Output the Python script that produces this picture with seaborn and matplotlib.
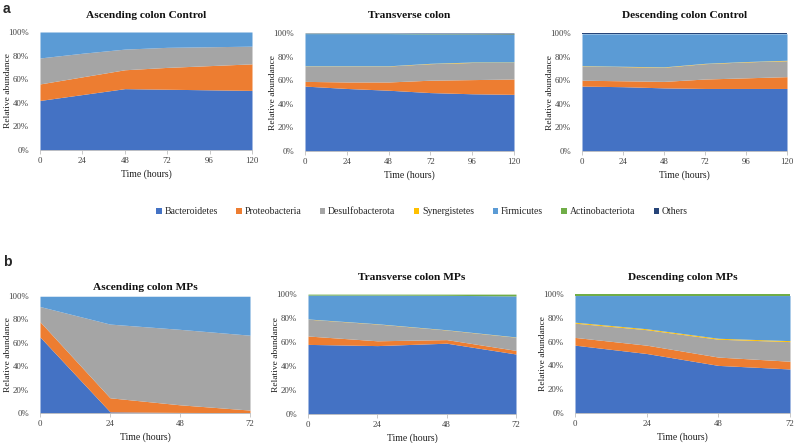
import numpy as np
import matplotlib
matplotlib.use("Agg")
import matplotlib.pyplot as plt
from matplotlib.patches import Patch
from matplotlib.ticker import PercentFormatter
import seaborn as sns

# ── Data (relative abundance, % per phylum) ──────────────────────────────────
phyla = ["Bacteroidetes", "Proteobacteria", "Desulfobacterota", "Synergistetes",
         "Firmicutes", "Actinobacteriota", "Others"]
colors = ["#4472C4", "#ED7D31", "#A5A5A5", "#FFC000", "#5B9BD5", "#70AD47", "#264478"]

time_control = [0, 24, 48, 72, 96, 120]
time_mps = [0, 24, 48, 72]

# rows follow the order of `phyla`
asc_control = [
    [42, 47, 52, 51.5, 51, 50.5],
    [14, 15, 16, 18.5, 20.5, 22.5],
    [22, 20, 17.5, 17, 16, 15],
    [0, 0, 0, 0, 0, 0],
    [22, 18, 14.5, 13, 12.5, 12],
    [0, 0, 0, 0, 0, 0],
    [0, 0, 0, 0, 0, 0],
]
trans_control = [
    [55, 53, 51.5, 49.5, 48.5, 48],
    [4, 5.5, 7, 10.5, 12, 13],
    [13, 13.5, 13.5, 14, 14.5, 14],
    [0.2, 0.2, 0.2, 0.3, 0.4, 0.4],
    [27.3, 27.3, 27.3, 24.9, 23.7, 23.4],
    [0.2, 0.2, 0.2, 0.3, 0.3, 0.4],
    [0.3, 0.3, 0.3, 0.5, 0.6, 0.8],
]
desc_control = [
    [55, 54.5, 53.5, 53, 53, 53],
    [5, 5, 5.5, 8, 9, 10],
    [12, 12, 12, 13, 13.5, 13.5],
    [0.3, 0.3, 0.3, 0.3, 0.3, 0.4],
    [27, 27.5, 28, 25, 23.5, 22.4],
    [0.1, 0.1, 0.1, 0.1, 0.1, 0.1],
    [0.6, 0.6, 0.6, 0.6, 0.6, 0.6],
]
asc_mps = [
    [65, 1, 0.5, 0.3],
    [13, 12, 6.5, 2.2],
    [13, 63, 64.5, 64],
    [0, 0, 0, 0],
    [8.8, 23.8, 28.3, 33.3],
    [0.2, 0.2, 0.2, 0.2],
    [0, 0, 0, 0],
]
trans_mps = [
    [58, 57, 59, 50],
    [7, 4, 3, 3],
    [14, 14, 8, 11],
    [0.2, 0.2, 0.2, 0.2],
    [19.9, 23.9, 28.7, 34.2],
    [0.8, 0.8, 1.0, 1.5],
    [0.1, 0.1, 0.1, 0.1],
]
desc_mps = [
    [57, 50, 40, 37],
    [6.5, 7, 7, 6.5],
    [12, 13, 15, 16.5],
    [0.8, 0.8, 0.8, 0.8],
    [22.4, 27.9, 35.9, 37.9],
    [1, 1, 1, 1],
    [0.3, 0.3, 0.3, 0.3],
]

sns.set_theme(style="white")
plt.rcParams["font.family"] = ["Liberation Serif", "DejaVu Serif"]

fig = plt.figure(figsize=(7.94, 4.43), dpi=100)
H = 443.0


def axes_px(x0, x1, y_top, y_bot):
    return fig.add_axes([x0 / 794, 1 - y_bot / H, (x1 - x0) / 794, (y_bot - y_top) / H])


panels = [
    ("Ascending colon Control", time_control, asc_control, (40, 252, 32, 150), 15),
    ("Transverse colon", time_control, trans_control, (305, 514, 33, 151), 15),
    ("Descending colon Control", time_control, desc_control, (582, 787, 33, 151), 15),
    ("Ascending colon MPs", time_mps, asc_mps, (40, 250, 296, 413), 288),
    ("Transverse colon MPs", time_mps, trans_mps, (308, 516, 294, 414), 278),
    ("Descending colon MPs", time_mps, desc_mps, (575, 790, 294, 413), 277),
]

for title, t, vals, box, title_y in panels:
    ax = axes_px(*box)
    ax.stackplot(t, np.array(vals), colors=colors, linewidth=0)
    ax.set_xlim(t[0], t[-1])
    ax.set_ylim(0, 100)
    ax.set_xticks(t)
    ax.set_yticks(range(0, 101, 20))
    ax.yaxis.set_major_formatter(PercentFormatter(decimals=0))
    ax.tick_params(axis="both", labelsize=6.3, colors="#404040", pad=2)
    ax.tick_params(axis="x", bottom=True, length=3, width=0.6, color="#BFBFBF")
    ax.tick_params(axis="y", left=False)
    sns.despine(ax=ax, left=True)
    ax.spines["bottom"].set_color("#BFBFBF")
    ax.spines["bottom"].set_linewidth(0.6)
    ax.set_xlabel("Time (hours)", fontsize=7, color="#202020", labelpad=3)
    ax.set_ylabel("Relative abundance", fontsize=6.8, color="#202020")
    ax.yaxis.set_label_coords(-28 / (box[1] - box[0]), 0.5)
    xc = (box[0] + box[1]) / 2 / 794
    fig.text(xc, 1 - title_y / H, title, ha="center", va="center",
             fontsize=8.2, fontweight="bold", color="#111111")

handles = [Patch(facecolor=c, edgecolor="none", label=p) for p, c in zip(phyla, colors)]
fig.legend(handles=handles, loc="center", bbox_to_anchor=(422 / 794, 1 - 212 / H), ncol=7,
           frameon=False, fontsize=7, handlelength=0.55, handleheight=0.55,
           handletextpad=0.3, columnspacing=1.9)

fig.text(3 / 794, 1 - 9 / H, "a", fontsize=10, fontweight="bold",
         family="Liberation Sans", va="center")
fig.text(3 / 794, 1 - 262 / H, "b", fontsize=10, fontweight="bold",
         family="Liberation Sans", va="center")

fig.savefig("out.png", dpi=100)
